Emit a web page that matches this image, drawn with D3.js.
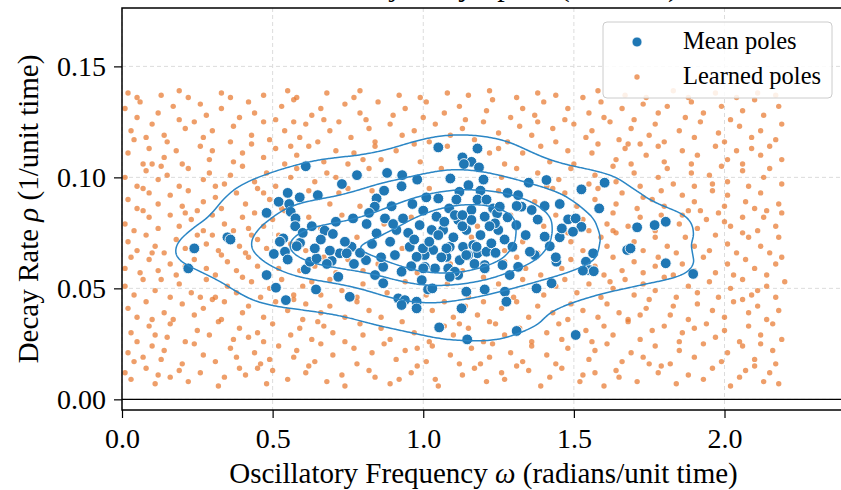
<!DOCTYPE html>
<html>
<head>
<meta charset="utf-8">
<script src="https://cdn.jsdelivr.net/npm/d3@7"></script>
<style>
  body { margin: 0; background: #fff; }
  text { font-family: "Liberation Serif", "Times New Roman", serif; fill: #000; }
</style>
</head>
<body>
<svg id="chart" width="841" height="490"></svg>
<script>
// ---- data ----
const xTicks = [0, 0.5, 1.0, 1.5, 2.0];
const yTicks = [0, 0.05, 0.10, 0.15];
const xDomain = [0, 2.4];
const yDomain = [-0.0048, 0.1763];
const kdeLevels = [0.05, 0.2875, 0.525, 0.7625];   // iso-proportion levels (mass below each line)

// mean poles: [omega, rho]
const meanPoles = [
  [0.24,.068],[0.22,.059],[0.35,.073],[0.36,.072],[0.48,.084],[0.61,.105],[0.52,.089],[0.55,.093],[0.59,.091],[0.65,.092],
  [0.73,.097],[0.78,.101],[0.88,.102],[0.93,.101],[0.98,.099],[0.555,.088],[0.56,.0845],[0.576,.0815],[0.575,.078],[0.673,.076],
  [0.70,.0745],[0.767,.0815],[0.812,.079],[0.535,.0725],
  [1.05,.1135],[1.18,.113],[1.13,.109],[1.16,.107],[1.135,.106],[1.185,.1045],[1.09,.0995],[1.15,.0965],[1.20,.099],[1.35,.0976],
  [0.928,.096],[0.87,.094],[0.845,.0905],[1.01,.091],[1.05,.0905],[1.12,.0935],[1.11,.090],[1.19,.094],[1.18,.090],[1.21,.090],
  [1.28,.093],[1.315,.092],[0.895,.087],[0.964,.088],[1.086,.086],[1.16,.0853],[1.232,.086],[1.326,.0868],[1.36,.0853],[0.839,.0868],
  [0.933,.0815],[0.988,.0785],[1.044,.0823],[1.116,.0808],[1.16,.0808],[1.204,.0823],[1.309,.0785],[0.873,.0815],[1.028,.0763],[1.066,.0763],
  [1.143,.0763],[1.249,.0763],[0.845,.0748],[0.911,.0763],
  [1.409,.0988],[1.525,.0946],[1.602,.0976],[1.584,.086],[1.403,.0871],[1.453,.088],[1.481,.0811],[1.506,.0815],[1.525,.0777],[1.497,.0755],
  [1.453,.073],[1.71,.0775],[1.768,.0785],[1.805,.080],
  [1.677,.0673],[1.688,.068],[1.805,.0613],[1.896,.0565],[1.564,.0658],[1.54,.062],[1.552,.0582],[1.566,.0577],[1.442,.062],[1.44,.064],
  [1.403,.0733],[1.37,.065],[1.354,.0665],[1.296,.0687],[1.263,.0605],[1.315,.0597],[1.287,.056],[1.245,.0838],[1.31,.0871],[1.254,.0868],
  [1.238,.0793],[1.105,.083],[1.088,.0687],[1.132,.0687],[1.166,.0695],[1.18,.0658],[1.21,.0665],[1.149,.065],[1.121,.0627],[1.204,.0605],
  [1.033,.0673],[1.005,.065],[1.039,.059],[1.005,.0597],[1.083,.059],[1.094,.056],[1.116,.056],
  [0.906,.065],[0.978,.0642],[1.077,.0642],[1.143,.065],[0.955,.0687],[0.999,.068],[1.077,.068],[1.177,.0687],[1.226,.0703],[0.867,.0597],
  [0.928,.0575],[1.0,.059],[1.105,.0575],[1.204,.059],[0.995,.0537],[1.088,.0552],[0.867,.0523],[1.016,.0495],[1.143,.0485],[1.204,.0495],
  [1.271,.0485],[1.276,.044],[0.917,.0455],[0.939,.0447],[0.928,.0425],[0.978,.044],[0.978,.041],[1.127,.041],[1.053,.0324],[1.146,.027],
  [1.31,.0308],[1.376,.050],[1.426,.0523],[1.53,.058],[1.506,.029],[1.03,.050],
  [0.504,.0655],[0.541,.0665],[0.591,.0705],[0.524,.071],[0.48,.056],[0.511,.0503],[0.544,.0447],[0.644,.0495],[0.61,.0586],[0.624,.062],
  [0.646,.0635],[0.64,.068],[0.696,.0624],[0.718,.0552],[0.756,.0462],[0.762,.0687],[0.723,.0658],[0.81,.0627],[0.746,.0658],
  [0.66,.072],[0.69,.067],[0.74,.071],[0.79,.066],[0.83,.070],[0.86,.064],[0.89,.071],[0.95,.075],[0.97,.072],[1.02,.071],
  [1.05,.074],[1.10,.073],[1.13,.078],[1.19,.074],[1.22,.078],[1.27,.072],[0.82,.084],[0.90,.079],[1.00,.085],[1.07,.080],
  [1.13,.083],[1.24,.066],[0.77,.061],[0.84,.056],[0.96,.060],[1.06,.064],[1.17,.061],[0.71,.080],[0.63,.078],[0.60,.075],
  [0.68,.061],[0.55,.063],[0.58,.069],[1.46,.077],[1.38,.081],[1.42,.069],[1.34,.074],[1.28,.082]
];

// learned poles: [omega, rho]
const learnedPoles = [
  [.01,.012],[.03,.009],[.08,.014],[.11,.007],[.12,.011],[.19,.013],[.22,.008],[.26,.012],[.32,.006],[.34,.010],
  [.39,.014],[.41,.011],[.48,.007],[.50,.013],[.55,.009],[.61,.012],[.62,.015],[.68,.008],[.73,.011],[.74,.006],
  [.82,.013],[.84,.010],[.89,.007],[.96,.012],[.98,.015],[1.04,.009],[1.05,.006],[1.13,.011],[1.17,.014],[1.21,.008],
  [1.26,.012],[1.27,.009],[1.35,.013],[1.39,.006],[1.42,.010],[1.46,.014],[1.52,.008],[1.53,.011],[1.60,.006],[1.64,.013],
  [1.65,.010],[1.71,.008],[1.78,.012],[1.79,.015],[1.84,.007],[1.88,.011],[1.93,.009],[1.96,.014],[2.02,.006],[2.05,.010],
  [2.07,.013],[2.13,.008],[2.15,.012],[2.18,.007],[.16,.010],[.45,.014],[.92,.009],[1.31,.015],[1.57,.012],[2.10,.015],
  [.02,.021],[.04,.017],[.10,.024],[.13,.018],[.14,.022],[.20,.016],[.24,.025],[.27,.020],[.31,.017],[.36,.023],
  [.38,.019],[.44,.021],[.46,.016],[.52,.024],[.57,.019],[.58,.022],[.64,.017],[.66,.025],[.70,.020],[.77,.023],
  [.78,.016],[.83,.021],[.87,.025],[.91,.018],[.94,.022],[1.01,.017],[1.03,.024],[1.09,.020],[1.12,.016],[1.16,.023],
  [1.22,.019],[1.23,.025],[1.29,.021],[1.33,.017],[1.36,.024],[1.41,.020],[1.44,.016],[1.48,.023],[1.55,.018],[1.57,.022],
  [1.61,.025],[1.66,.017],[1.69,.021],[1.73,.019],[1.77,.024],[1.82,.016],[1.85,.022],[1.90,.019],[1.93,.025],[1.99,.017],
  [2.01,.021],[2.06,.024],[2.10,.018],[2.16,.022],[2.17,.016],[.07,.019],[.49,.018],[.98,.023],[1.19,.016],[1.75,.016],
  [2.12,.025],
  [.03,.030],[.05,.026],[.09,.033],[.15,.028],[.16,.034],[.21,.026],[.25,.031],[.29,.029],[.32,.035],[.37,.027],
  [.39,.032],[.45,.030],[.47,.026],[.50,.034],[.56,.029],[.59,.032],[.63,.027],[.67,.033],[.70,.030],[.74,.026],
  [.79,.034],[.80,.029],[.86,.032],[.89,.027],[.93,.035],[.97,.030],[1.02,.026],[1.07,.033],[1.10,.029],[1.15,.032],
  [1.20,.026],[1.24,.034],[1.27,.029],[1.32,.032],[1.36,.026],[1.41,.030],[1.45,.034],[1.46,.027],[1.54,.031],[1.56,.026],
  [1.60,.033],[1.63,.029],[1.68,.035],[1.72,.027],[1.76,.031],[1.80,.033],[1.85,.026],[1.86,.030],[1.94,.034],[1.97,.028],
  [2.00,.031],[2.05,.026],[2.08,.033],[2.12,.029],[2.16,.034],[2.19,.027],[.11,.029],[.42,.028],[.65,.035],[1.12,.034],
  [1.51,.029],[1.90,.032],
  [.02,.041],[.05,.037],[.08,.044],[.14,.039],[.17,.036],[.20,.043],[.24,.038],[.27,.041],[.33,.036],[.34,.044],
  [.40,.039],[.42,.042],[.47,.037],[.51,.044],[.55,.040],[.60,.036],[.61,.043],[.66,.039],[.69,.042],[.74,.037],
  [.78,.044],[.82,.040],[.86,.037],[1.03,.040],[1.07,.044],[1.10,.037],[1.14,.042],[1.18,.038],[1.22,.035],[1.26,.041],
  [1.31,.044],[1.35,.037],[1.38,.042],[1.43,.039],[1.48,.036],[1.49,.043],[1.53,.040],[1.58,.037],[1.61,.043],[1.65,.039],
  [1.68,.036],[1.74,.041],[1.75,.045],[1.82,.038],[1.83,.042],[1.88,.036],[1.91,.043],[1.96,.040],[2.00,.037],[2.03,.044],
  [2.08,.039],[2.11,.042],[2.14,.036],[2.18,.040],[.10,.036],[.30,.045],[.57,.045],[1.20,.044],[1.72,.038],[2.06,.045],
  [.01,.051],[.04,.047],[.07,.054],[.11,.049],[.16,.046],[.19,.052],[.23,.048],[.28,.054],[.31,.046],[.35,.051],
  [.38,.048],[.43,.053],[.46,.046],[.49,.050],[.53,.054],[.57,.047],[.60,.051],[.66,.047],[.69,.054],[.73,.049],
  [.78,.046],[.80,.052],[.88,.048],[.94,.053],[1.01,.047],[1.08,.052],[1.15,.046],[1.25,.052],[1.30,.046],[1.33,.054],
  [1.40,.047],[1.44,.051],[1.47,.054],[1.51,.048],[1.55,.052],[1.59,.046],[1.63,.050],[1.67,.054],[1.70,.047],[1.73,.052],
  [1.77,.049],[1.80,.055],[1.84,.046],[1.88,.051],[1.91,.048],[1.95,.053],[1.98,.046],[2.02,.050],[2.06,.054],[2.09,.047],
  [2.14,.051],[2.17,.046],[2.20,.053],[.13,.054],[.26,.046],[.40,.055],[.63,.053],[1.20,.055],[1.62,.053],[2.11,.049],
  [.01,.059],[.06,.057],[.09,.063],[.12,.058],[.16,.061],[.18,.056],[.24,.063],[.28,.059],[.31,.056],[.35,.062],
  [.38,.058],[.42,.064],[.45,.060],[.49,.056],[.55,.062],[.59,.058],[.64,.060],[.71,.057],[.75,.063],[.80,.058],
  [.85,.061],[.98,.057],[1.09,.061],[1.13,.058],[1.27,.062],[1.34,.059],[1.39,.056],[1.46,.059],[1.49,.063],[1.57,.060],
  [1.60,.056],[1.63,.064],[1.66,.058],[1.70,.062],[1.73,.057],[1.77,.060],[1.78,.064],[1.83,.056],[1.86,.061],[1.90,.058],
  [1.93,.064],[1.97,.057],[2.01,.061],[2.03,.056],[2.07,.063],[2.10,.059],[2.14,.056],[2.17,.061],[.03,.064],[.21,.060],
  [.33,.065],[.52,.059],[.67,.064],[1.31,.064],[1.53,.057],[1.81,.062],[2.19,.064],
  [.02,.071],[.05,.067],[.08,.074],[.11,.069],[.14,.066],[.18,.072],[.21,.068],[.25,.074],[.28,.070],[.32,.067],
  [.35,.073],[.39,.069],[.41,.066],[.45,.072],[.48,.068],[.52,.074],[.56,.070],[.61,.067],[.72,.066],[.78,.073],
  [.93,.068],[1.16,.073],[1.27,.067],[1.33,.071],[1.38,.066],[1.49,.071],[1.53,.067],[1.59,.073],[1.61,.069],[1.64,.075],
  [1.70,.071],[1.73,.067],[1.77,.073],[1.81,.069],[1.84,.066],[1.87,.073],[1.90,.069],[1.95,.067],[1.97,.074],[2.01,.070],
  [2.04,.066],[2.08,.073],[2.12,.069],[2.15,.066],[2.18,.073],[.10,.066],[.30,.074],[.43,.074],[1.23,.069],[1.48,.075],
  [1.67,.067],[2.06,.075],
  [.01,.079],[.04,.076],[.09,.082],[.12,.077],[.16,.083],[.19,.078],[.23,.081],[.27,.076],[.30,.083],[.34,.079],
  [.37,.076],[.40,.082],[.44,.084],[.47,.078],[.50,.081],[.57,.078],[.62,.082],[.66,.077],[.73,.083],[.87,.079],
  [.96,.082],[1.18,.078],[1.29,.083],[1.40,.078],[1.44,.083],[1.53,.081],[1.55,.076],[1.61,.079],[1.63,.084],[1.68,.078],
  [1.72,.082],[1.77,.076],[1.79,.083],[1.85,.079],[1.86,.083],[1.91,.077],[1.94,.081],[1.98,.084],[2.02,.078],[2.06,.082],
  [2.11,.076],[2.13,.082],[2.17,.078],[.07,.085],[.21,.084],[.42,.077],[.54,.085],[1.63,.076],[1.88,.085],[2.00,.080],
  [2.19,.084],
  [.02,.090],[.05,.086],[.09,.093],[.12,.088],[.16,.092],[.20,.087],[.22,.094],[.27,.089],[.31,.091],[.33,.086],
  [.38,.093],[.41,.088],[.45,.095],[.49,.090],[.53,.086],[.62,.094],[.69,.088],[.72,.093],[.79,.087],[.83,.094],
  [1.02,.095],[1.25,.094],[1.37,.089],[1.47,.093],[1.51,.087],[1.57,.090],[1.58,.095],[1.64,.088],[1.66,.093],[1.71,.086],
  [1.73,.091],[1.79,.094],[1.80,.087],[1.86,.092],[1.90,.089],[1.92,.085],[1.96,.094],[2.00,.087],[2.01,.092],[2.07,.089],
  [2.10,.086],[2.12,.093],[2.18,.088],[.07,.095],[.25,.085],[.47,.093],[1.43,.095],[1.76,.090],[2.14,.085],
  [.01,.100],[.05,.096],[.08,.103],[.12,.099],[.15,.101],[.19,.096],[.22,.104],[.27,.099],[.29,.102],[.34,.097],
  [.36,.101],[.40,.105],[.44,.098],[.48,.102],[.51,.096],[.56,.100],[.58,.104],[.64,.098],[.68,.102],[.75,.095],
  [.82,.104],[1.06,.104],[1.26,.100],[1.31,.104],[1.38,.102],[1.45,.099],[1.49,.104],[1.55,.097],[1.57,.101],[1.63,.105],
  [1.64,.098],[1.70,.102],[1.72,.096],[1.78,.100],[1.81,.104],[1.83,.097],[1.89,.102],[1.90,.096],[1.95,.101],[1.99,.105],
  [2.01,.098],[2.06,.103],[2.08,.096],[2.13,.100],[2.15,.104],[2.19,.097],[.13,.105],[.31,.096],[.71,.100],[1.41,.096],
  [1.96,.097],
  [.02,.111],[.07,.106],[.09,.113],[.14,.109],[.18,.112],[.20,.106],[.26,.114],[.29,.108],[.30,.112],[.37,.107],
  [.40,.111],[.43,.115],[.47,.109],[.51,.113],[.54,.106],[.58,.110],[.62,.114],[.67,.107],[.71,.112],[.75,.106],
  [.77,.111],[.84,.114],[.86,.108],[.91,.112],[.97,.115],[.99,.107],[1.08,.114],[1.22,.111],[1.27,.106],[1.33,.111],
  [1.39,.114],[1.42,.107],[1.48,.112],[1.50,.106],[1.56,.111],[1.58,.115],[1.64,.108],[1.67,.113],[1.69,.106],[1.74,.110],
  [1.78,.114],[1.80,.107],[1.86,.112],[1.89,.106],[1.91,.110],[1.97,.114],[2.01,.108],[2.04,.112],[2.06,.106],[2.12,.110],
  [2.15,.114],[2.19,.108],[.10,.106],[.56,.114],[.80,.108],[1.25,.113],[1.68,.115],[2.09,.113],
  [.03,.121],[.04,.117],[.10,.124],[.14,.119],[.15,.116],[.21,.122],[.24,.125],[.27,.118],[.30,.121],[.36,.116],
  [.37,.123],[.43,.119],[.47,.125],[.49,.117],[.54,.121],[.59,.118],[.61,.124],[.65,.116],[.69,.121],[.72,.125],
  [.76,.118],[.82,.122],[.84,.116],[.89,.124],[.93,.119],[.97,.121],[1.02,.116],[1.04,.124],[1.09,.119],[1.13,.122],
  [1.17,.117],[1.20,.125],[1.25,.120],[1.28,.116],[1.32,.123],[1.36,.119],[1.43,.122],[1.44,.116],[1.50,.124],[1.54,.118],
  [1.56,.121],[1.62,.125],[1.65,.117],[1.69,.122],[1.75,.119],[1.77,.124],[1.80,.116],[1.85,.121],[1.90,.118],[1.92,.125],
  [1.98,.120],[2.00,.116],[2.05,.123],[2.09,.118],[2.12,.121],[2.17,.117],[2.19,.124],[.08,.118],[.57,.125],[1.38,.125],
  [1.72,.115],
  [.01,.131],[.05,.127],[.06,.134],[.12,.129],[.17,.132],[.19,.126],[.26,.133],[.28,.128],[.33,.131],[.39,.127],
  [.42,.134],[.44,.129],[.51,.126],[.53,.132],[.57,.135],[.63,.128],[.66,.131],[.67,.126],[.74,.133],[.79,.129],
  [.81,.126],[.85,.134],[.90,.128],[.94,.131],[1.00,.127],[1.01,.134],[1.07,.129],[1.12,.132],[1.14,.126],[1.21,.130],
  [1.23,.135],[1.29,.127],[1.33,.131],[1.37,.128],[1.40,.134],[1.47,.126],[1.48,.131],[1.55,.129],[1.59,.134],[1.60,.127],
  [1.66,.131],[1.70,.126],[1.73,.133],[1.78,.129],[1.81,.132],[1.87,.127],[1.89,.134],[1.93,.129],[1.99,.132],[2.02,.126],
  [2.06,.130],[2.10,.135],[2.13,.128],[2.18,.132],
  [.02,.138],[.05,.136],[.13,.137],[.19,.139],[.22,.136],[.33,.138],[.36,.136],[.47,.137],[.55,.139],[.58,.136],
  [.68,.138],[.77,.136],[.79,.139],[.92,.137],[.99,.136],[1.08,.138],[1.15,.137],[1.22,.139],[1.31,.136],[1.38,.138],
  [1.44,.137],[1.53,.136],[1.58,.139],[1.67,.137],[1.74,.136],[1.83,.139],[1.88,.136],[1.97,.138],[2.04,.136],[2.11,.138],
  [2.17,.137]
];

// ---- layout ----
const margin = { top: 8, left: 122 };
const width = 723, height = 402;

const svg = d3.select("#chart");
const g = svg.append("g").attr("transform", `translate(${margin.left},${margin.top})`);

const x = d3.scaleLinear().domain(xDomain).range([0, width]);
const y = d3.scaleLinear().domain(yDomain).range([height, 0]);

// title (mostly cut off at the top of the figure)
svg.append("text")
  .attr("x", margin.left + width / 2).attr("y", -4)
  .attr("text-anchor", "middle").style("font-size", "30px")
  .text("Pole Trajectory Space (Learned)");

// grid
g.append("g").selectAll("line").data(xTicks).join("line")
  .attr("x1", d => x(d)).attr("x2", d => x(d)).attr("y1", 0).attr("y2", height)
  .attr("stroke", "#dcdcdc").attr("stroke-width", 1).attr("stroke-dasharray", "4,3");
g.append("g").selectAll("line").data(yTicks).join("line")
  .attr("x1", 0).attr("x2", width).attr("y1", d => y(d)).attr("y2", d => y(d))
  .attr("stroke", "#dcdcdc").attr("stroke-width", 1).attr("stroke-dasharray", "4,3");

// learned poles
g.append("g").selectAll("circle").data(learnedPoles).join("circle")
  .attr("cx", d => x(d[0])).attr("cy", d => y(d[1])).attr("r", 2.7)
  .attr("fill", "#e8782f").attr("fill-opacity", 0.72);

// mean poles
g.append("g").selectAll("circle").data(meanPoles).join("circle")
  .attr("cx", d => x(d[0])).attr("cy", d => y(d[1])).attr("r", 5.4)
  .attr("fill", "#1f77b4").attr("stroke", "#fff").attr("stroke-width", 0.9);

// KDE contours of the mean poles (Scott bandwidth per axis)
const n = meanPoles.length;
const factor = Math.pow(n, -1 / 6);
const sx = d3.deviation(meanPoles, d => x(d[0])) * factor;
const sy = d3.deviation(meanPoles, d => y(d[1])) * factor;
const k = sx / sy;                                    // stretch y so the kernel is round
const pts = meanPoles.map(d => [x(d[0]), y(d[1]) * k]);

// density on a grid -> levels holding the given share of probability mass
const step = 4, gridVals = [];
const [gx0, gx1] = d3.extent(pts, p => p[0]), [gy0, gy1] = d3.extent(pts, p => p[1]);
for (let gx = gx0 - 3 * sx; gx <= gx1 + 3 * sx; gx += step) {
  for (let gy = gy0 - 3 * sx; gy <= gy1 + 3 * sx; gy += step) {
    let s = 0;
    for (const p of pts) {
      const dx = gx - p[0], dy = gy - p[1];
      s += Math.exp(-(dx * dx + dy * dy) / (2 * sx * sx));
    }
    gridVals.push(s / (2 * Math.PI * sx * sx));
  }
}
gridVals.sort((a, b) => b - a);
const total = d3.sum(gridVals);
const thresholds = kdeLevels.map(p => {
  let c = 0;
  for (const v of gridVals) { c += v; if (c / total >= 1 - p) return v; }
  return gridVals[gridVals.length - 1];
});

const contours = d3.contourDensity()
  .x(d => x(d[0])).y(d => y(d[1]) * k)
  .size([width, height * k]).bandwidth(sx).cellSize(2)
  .thresholds(thresholds)(meanPoles);

const unscale = d3.geoTransform({ point(px, py) { this.stream.point(px, py / k); } });
g.append("g").selectAll("path").data(contours).join("path")
  .attr("d", d3.geoPath(unscale))
  .attr("fill", "none").attr("stroke", "#2b86c5").attr("stroke-width", 1.5)
  .attr("stroke-linejoin", "round");

// zero line
g.append("line").attr("x1", 0).attr("x2", width).attr("y1", y(0)).attr("y2", y(0))
  .attr("stroke", "#000").attr("stroke-width", 1.3);

// axes
const xAxis = g.append("g").attr("transform", `translate(0,${height})`)
  .call(d3.axisBottom(x).tickValues(xTicks).tickFormat(d3.format(".1f")).tickSizeInner(8).tickSizeOuter(0).tickPadding(10));
const yAxis = g.append("g")
  .call(d3.axisLeft(y).tickValues(yTicks).tickFormat(d3.format(".2f")).tickSizeInner(8).tickSizeOuter(0).tickPadding(8));
[xAxis, yAxis].forEach(a => {
  a.select(".domain").remove();
  a.selectAll(".tick line").attr("stroke", "#000").attr("stroke-width", 1.2);
  a.selectAll(".tick text").style("font-size", "28px").attr("font-family", null);
});

// frame
g.append("rect").attr("width", width).attr("height", height)
  .attr("fill", "none").attr("stroke", "#000").attr("stroke-width", 1.5);

// axis labels
const xl = svg.append("text")
  .attr("x", margin.left + width / 2).attr("y", 483)
  .attr("text-anchor", "middle").style("font-size", "29px");
xl.append("tspan").text("Oscillatory Frequency ");
xl.append("tspan").style("font-style", "italic").text("ω");
xl.append("tspan").text(" (radians/unit time)");

const yl = svg.append("text")
  .attr("transform", `translate(38,${margin.top + height / 2}) rotate(-90)`)
  .attr("text-anchor", "middle").style("font-size", "29px");
yl.append("tspan").text("Decay Rate ");
yl.append("tspan").style("font-style", "italic").text("ρ");
yl.append("tspan").text(" (1/unit time)");

// legend
const lg = svg.append("g").attr("transform", "translate(603,22)");
lg.append("rect").attr("width", 229).attr("height", 76).attr("rx", 4)
  .attr("fill", "#fff").attr("fill-opacity", 0.85).attr("stroke", "#cccccc").attr("stroke-width", 1);
lg.append("circle").attr("cx", 34).attr("cy", 20).attr("r", 5)
  .attr("fill", "#1f77b4").attr("stroke", "#fff").attr("stroke-width", 0.8);
lg.append("circle").attr("cx", 34).attr("cy", 55).attr("r", 2.7)
  .attr("fill", "#e8782f").attr("fill-opacity", 0.72);
lg.append("text").attr("x", 80).attr("y", 27).style("font-size", "24.5px").text("Mean poles");
lg.append("text").attr("x", 80).attr("y", 62).style("font-size", "24.5px").text("Learned poles");
</script>
</body>
</html>
